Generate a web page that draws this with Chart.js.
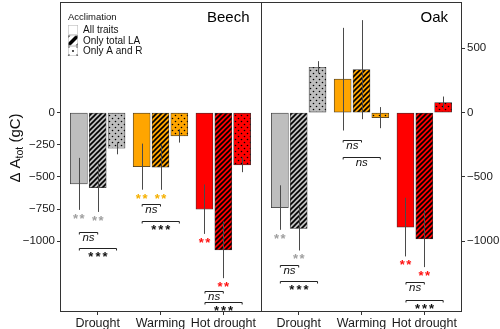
<!DOCTYPE html>
<html>
<head>
<meta charset="utf-8">
<script src="https://cdn.jsdelivr.net/npm/chart.js"></script>
<style>
  html, body { margin: 0; padding: 0; background: #fff; }
</style>
</head>
<body>
<canvas id="chart" width="500" height="329"></canvas>
<script>
const FONT = '"Liberation Sans", Arial, sans-serif';

const panels = ['Beech', 'Oak'];
const categories = ['Drought', 'Warming', 'Hot drought'];
const acclimation = ['All traits', 'Only total LA', 'Only A and R'];

// order: Beech Drought, Warming, Hot drought, then Oak Drought, Warming, Hot drought
const allTraits    = [-554, -420, -751, -738, 260, -890];
const allTraitsErr = [202, 179, 192, 173, 399, 228];
const onlyLA       = [-583, -424, -1067, -901, 334, -981];
const onlyLAErr    = [189, 176, 220, 171, 385, 220];
const onlyAR       = [-277, -181, -406, 353, -39, 78];
const onlyARErr    = [47, 52, 57, 47, 82, 47];

const leftTicks = [-1000, -750, -500, -250, 0];
const rightTicks = [-1000, -500, 0, 500];

// bars marked with "**" in each group (0 = All traits, 1 = Only total LA)
const starBars = [[0, 1], [0, 1], [0, 1], [0, 1], [], [0, 1]];

// group, from bar, to bar, y level (gC), label
const brackets = [
  [0, 0, 1, -927, 'ns'], [0, 0, 2, -1049, '***'],
  [1, 0, 1, -712, 'ns'], [1, 0, 2, -841, '***'],
  [2, 0, 1, -1383, 'ns'], [2, 0, 2, -1473, '***'],
  [3, 0, 1, -1183, 'ns'], [3, 0, 2, -1308, '***'],
  [4, 0, 1, -212, 'ns'], [4, 0, 2, -347, 'ns'],
  [5, 0, 1, -1313, 'ns'], [5, 0, 2, -1455, '***']
];

const groupColors = ['#BEBEBE', '#FFA500', '#FF0000'];
const starColors = ['#A0A0A0', '#F5B000', '#FF1010'];

const values = [allTraits, onlyLA, onlyAR];
const errors = [allTraitsErr, onlyLAErr, onlyARErr];
const offsets = [-0.3, 0, 0.3];
const groupX = [];
panels.forEach((p, pi) => categories.forEach((c, ci) => groupX.push(pi * 3.2 + ci + 1)));

const canvas = document.getElementById('chart');
const ctx = canvas.getContext('2d');

function makePattern(color, kind) {
  const c = document.createElement('canvas');
  const s = kind === 'hatch' ? 5 : 6;
  c.width = s; c.height = s;
  const g = c.getContext('2d');
  g.fillStyle = color;
  g.fillRect(0, 0, s, s);
  if (kind === 'hatch') {
    g.strokeStyle = '#000';
    g.lineWidth = 1.6;
    g.beginPath();
    g.moveTo(-1, s + 1); g.lineTo(s + 1, -1);
    g.moveTo(-1, 1); g.lineTo(1, -1);
    g.moveTo(s - 1, s + 1); g.lineTo(s + 1, s - 1);
    g.stroke();
  } else if (kind === 'dots') {
    g.fillStyle = '#000';
    g.beginPath();
    g.arc(1.5, 1.5, 0.8, 0, Math.PI * 2);
    g.arc(4.5, 4.5, 0.8, 0, Math.PI * 2);
    g.fill();
  }
  return ctx.createPattern(c, 'repeat');
}

const kinds = ['solid', 'hatch', 'dots'];
const datasets = acclimation.map((name, d) => ({
  label: name,
  data: values[d].map((v, i) => ({ x: groupX[i] + offsets[d], y: v })),
  backgroundColor: values[d].map((v, i) => makePattern(groupColors[i % 3], kinds[d])),
  borderColor: '#333',
  borderWidth: 0.7,
  borderSkipped: false,
  grouped: false,
  barThickness: 17
}));

// draws star text with extra letter spacing, kept centred on x
function starText(ctx, text, x, y, spacing) {
  ctx.letterSpacing = spacing + 'px';
  ctx.fillText(text, x + spacing / 2, y);
  ctx.letterSpacing = '0px';
}

const annotationPlugin = {
  id: 'annotationPlugin',
  afterDatasetsDraw(chart) {
    const { ctx, scales: { y } } = chart;
    ctx.save();
    // error bars
    ctx.strokeStyle = '#4a4a4a';
    ctx.lineWidth = 1;
    datasets.forEach((ds, d) => {
      const meta = chart.getDatasetMeta(d);
      values[d].forEach((v, i) => {
        const x = Math.round(meta.data[i].x) + 0.5;
        ctx.beginPath();
        ctx.moveTo(x, y.getPixelForValue(v + errors[d][i]));
        ctx.lineTo(x, y.getPixelForValue(v - errors[d][i]));
        ctx.stroke();
      });
    });
    // stars under error bars
    ctx.textAlign = 'center';
    ctx.textBaseline = 'alphabetic';
    ctx.font = 'bold 13px ' + FONT;
    starBars.forEach((bars, g) => {
      bars.forEach(b => {
        const x = chart.getDatasetMeta(b).data[g].x;
        const yEnd = y.getPixelForValue(values[b][g] - errors[b][g]);
        ctx.fillStyle = starColors[g % 3];
        starText(ctx, '**', x, yEnd + 5.5 + 0.57 * 13, 1.5);
      });
    });
    // brackets
    brackets.forEach(([g, a, b, lvl, label]) => {
      const x1 = chart.getDatasetMeta(a).data[g].x + 0.5;
      const x2 = chart.getDatasetMeta(b).data[g].x;
      const yy = Math.round(y.getPixelForValue(lvl)) + 0.5;
      ctx.strokeStyle = '#222';
      ctx.lineWidth = 1;
      ctx.beginPath();
      ctx.moveTo(x1, yy + 2); ctx.lineTo(x1, yy); ctx.lineTo(x2, yy); ctx.lineTo(x2, yy + 2);
      ctx.stroke();
      ctx.fillStyle = '#111';
      const cx = (x1 + x2) / 2;
      if (label === 'ns') {
        ctx.font = 'italic 11.5px ' + FONT;
        ctx.fillText(label, cx, yy + 6 + 0.26 * 11.5);
      } else {
        ctx.font = 'bold 13px ' + FONT;
        starText(ctx, label, cx, yy + 5.5 + 0.57 * 13, 2);
      }
    });
    ctx.restore();
  },
  afterDraw(chart) {
    const { ctx, chartArea: { left, right, top, bottom }, scales: { x } } = chart;
    ctx.save();
    // panel frames
    ctx.strokeStyle = '#333';
    ctx.lineWidth = 1;
    ctx.strokeRect(Math.round(left) + 0.5, Math.round(top) + 0.5, Math.round(right - left) - 1, Math.round(bottom - top) - 1);
    const mid = Math.round(x.getPixelForValue(3.6)) + 0.5;
    ctx.beginPath();
    ctx.moveTo(mid, top); ctx.lineTo(mid, bottom);
    ctx.stroke();
    // panel titles
    ctx.fillStyle = '#000';
    ctx.font = '15px ' + FONT;
    ctx.textAlign = 'right';
    ctx.textBaseline = 'middle';
    ctx.fillText(panels[0], mid - 12, 18);
    ctx.fillText(panels[1], right - 14, 18);
    // legend
    ctx.textAlign = 'left';
    ctx.font = '9.5px ' + FONT;
    ctx.fillStyle = '#111';
    ctx.fillText('Acclimation', left + 8, 17);
    const kx = left + 8, ky = [25, 35.5, 46];
    acclimation.forEach((name, d) => {
      const by = ky[d];
      ctx.fillStyle = '#fff';
      ctx.fillRect(kx, by, 10, 10);
      ctx.fillStyle = '#000';
      if (d === 1) {
        ctx.beginPath();
        ctx.moveTo(kx, by + 10); ctx.lineTo(kx, by + 7.5); ctx.lineTo(kx + 7.5, by); ctx.lineTo(kx + 10, by);
        ctx.lineTo(kx + 10, by + 2.5); ctx.lineTo(kx + 2.5, by + 10); ctx.closePath();
        ctx.fill();
        ctx.beginPath();
        ctx.moveTo(kx, by); ctx.lineTo(kx + 2.5, by); ctx.lineTo(kx, by + 2.5); ctx.closePath();
        ctx.moveTo(kx + 10, by + 10); ctx.lineTo(kx + 7.5, by + 10); ctx.lineTo(kx + 10, by + 7.5); ctx.closePath();
        ctx.fill();
      } else if (d === 2) {
        [[5, 5], [0.8, 0.8], [9.2, 0.8], [0.8, 9.2], [9.2, 9.2]].forEach(([dx, dy]) => {
          ctx.beginPath();
          ctx.arc(kx + dx, by + dy, 0.9, 0, Math.PI * 2);
          ctx.fill();
        });
      }
      ctx.strokeStyle = '#bbb';
      ctx.lineWidth = 0.6;
      ctx.strokeRect(kx + 0.3, by + 0.3, 9.4, 9.4);
      ctx.fillStyle = '#111';
      ctx.font = '10px ' + FONT;
      ctx.fillText(name, kx + 15, by + 5.5);
    });
    // y axis title: Δ A_tot (gC)
    ctx.translate(15, 148);
    ctx.rotate(-Math.PI / 2);
    ctx.fillStyle = '#111';
    ctx.textBaseline = 'alphabetic';
    const big = '15px ' + FONT, small = '10.5px ' + FONT;
    ctx.font = big; const w1 = ctx.measureText('\u0394 A').width;
    ctx.font = small; const w2 = ctx.measureText('tot').width;
    ctx.font = big; const w3 = ctx.measureText(' (gC)').width;
    let px = -(w1 + w2 + w3) / 2;
    ctx.font = big; ctx.fillText('\u0394 A', px, 5); px += w1;
    ctx.font = small; ctx.fillText('tot', px, 8); px += w2;
    ctx.font = big; ctx.fillText(' (gC)', px, 5);
    ctx.restore();
  }
};

const minus = v => (v < 0 ? '\u2212' + Math.abs(v) : String(v));
const tickFont = { family: FONT, size: 11.5 };
const tickGrid = { display: true, drawOnChartArea: false, drawTicks: true, tickLength: 3, color: '#333', lineWidth: 1, offset: false };

new Chart(ctx, {
  type: 'bar',
  data: { datasets },
  options: {
    responsive: false,
    animation: false,
    layout: { padding: { top: 2, left: 0, right: 0, bottom: 0 } },
    plugins: { legend: { display: false }, tooltip: { enabled: false } },
    scales: {
      x: {
        type: 'linear', min: 0.4, max: 6.8, offset: false,
        grid: tickGrid,
        border: { display: false },
        afterBuildTicks: s => { s.ticks = groupX.map(v => ({ value: v })); },
        ticks: { callback: (v, i) => categories[i % 3], font: { family: FONT, size: 12.5 }, color: '#1a1a1a', padding: 1, maxRotation: 0, autoSkip: false },
        afterFit: s => { s.height = 17; s.paddingLeft = 0; s.paddingRight = 0; }
      },
      y: {
        position: 'left', min: -1550, max: 860,
        grid: tickGrid,
        border: { display: false },
        afterBuildTicks: s => { s.ticks = leftTicks.map(v => ({ value: v })); },
        ticks: { callback: minus, font: tickFont, color: '#1a1a1a', padding: 2 },
        afterFit: s => { s.width = 60; s.paddingTop = 0; s.paddingBottom = 0; }
      },
      y2: {
        position: 'right', min: -1550, max: 860,
        grid: tickGrid,
        border: { display: false },
        afterBuildTicks: s => { s.ticks = rightTicks.map(v => ({ value: v })); },
        ticks: { callback: minus, font: tickFont, color: '#1a1a1a', padding: 2 },
        afterFit: s => { s.width = 38; s.paddingTop = 0; s.paddingBottom = 0; }
      }
    }
  },
  plugins: [annotationPlugin]
});
</script>
</body>
</html>
